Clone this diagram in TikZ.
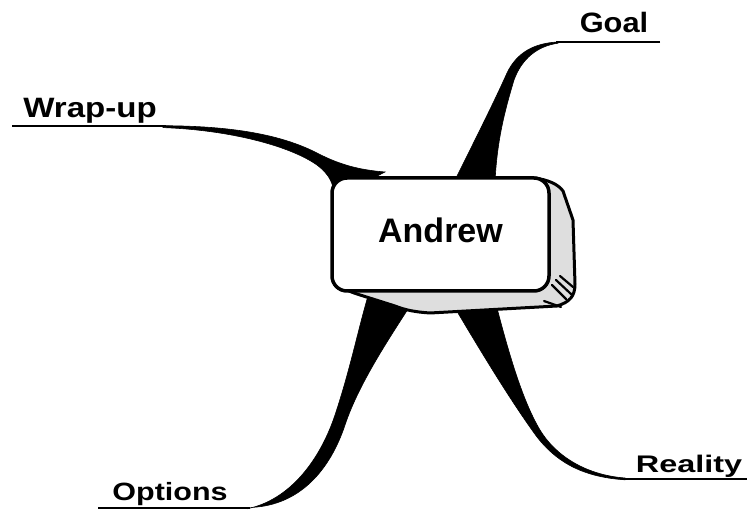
\documentclass[tikz,border=0pt]{standalone}
\usepackage{fontspec}
\setmainfont{Liberation Sans}
\begin{document}
\begin{tikzpicture}[x=1pt,y=-1pt,
  lbl/.style={anchor=base,inner sep=0pt,font=\bfseries},
  stem/.style={line width=2pt,line cap=butt},
  branch/.style={fill=black,draw=black,line width=0.6pt},
  frontface/.style={draw=black,fill=white,line width=3.5pt,rounded corners=15pt,
     minimum width=217pt,minimum height=113pt,inner sep=0pt,
     font=\fontsize{34}{34}\bfseries,text depth=9pt},
  sideface/.style={draw=black,fill=black!13,line width=3pt,line join=round},
  hatch/.style={line width=2.2pt,line cap=round}]
\useasboundingbox (0,0) rectangle (747,510);
% label nodes
\node[lbl,font=\fontsize{28}{28}\bfseries] (goal) at (614,33) {\scalebox{1.1}[1]{Goal}};
\node[lbl,font=\fontsize{28}{28}\bfseries] (wrapup) at (90,118) {\scalebox{1.18}[1]{Wrap-up}};
\node[lbl,font=\fontsize{25}{25}\bfseries] (options) at (170,500) {\scalebox{1.22}[1]{Options}};
\node[lbl,font=\fontsize{24}{24}\bfseries] (reality) at (689,472) {\scalebox{1.35}[1]{Reality}};
% stem coordinates
\coordinate (g0) at (660,42);  \coordinate (g1) at (556,42);
\coordinate (w0) at (12,126.5); \coordinate (w1) at (166,126.5);
\coordinate (o0) at (98,508); \coordinate (o1) at (250,508);
\coordinate (r0) at (747,479); \coordinate (r1) at (622,479);
\draw[stem] (g0) -- (g1);
\draw[stem] (w0) -- (w1);
\draw[stem] (o0) -- (o1);
\draw[stem] (r0) -- (r1);
% tapered branches
\draw[branch] (g1) ++(2,0) .. controls (535,43) and (517,52) .. (507,73)
  .. controls (495,100) and (475,140) .. (454,182) -- (495,182)
  .. controls (497,140) and (505,110) .. (514,80)
  .. controls (522,58) and (538,46) .. (558,43.2) -- cycle;
\draw[branch] (w1) ++(-3,-0.8) .. controls (230,126) and (280,134) .. (317,153)
  .. controls (340,165) and (360,170) .. (385,172) -- (334,198)
  .. controls (334,184) and (330,175) .. (317,165)
  .. controls (290,146) and (230,130) .. (163,127.6) -- cycle;
\draw[branch] (o1) ++(-3,0.8) .. controls (290,500) and (320,460) .. (335,415)
  .. controls (350,370) and (358,330) .. (368,296) -- (415,298)
  .. controls (395,330) and (360,380) .. (345,425)
  .. controls (330,470) and (300,505) .. (252,507.4) -- cycle;
\draw[branch] (r1) ++(3,0.8) .. controls (580,477) and (555,460) .. (537,437)
  .. controls (510,400) and (480,350) .. (455,308) -- (497,308)
  .. controls (508,350) and (522,400) .. (540,430)
  .. controls (555,455) and (585,475) .. (625,478) -- cycle;
% box: side and bottom faces
\draw[sideface] (535,178) .. controls (548,180) and (558,184) .. (563,191)
  -- (573,220) -- (575,284) .. controls (575,296) and (570,302) .. (557,306)
  -- (430,313) .. controls (415,312) and (405,310) .. (395,306)
  -- (357,294) .. controls (345,290) and (338,286) .. (334,278) -- cycle;
\draw[hatch] (552,285) -- (566,299);
\draw[hatch] (556,280) -- (571,294);
\draw[hatch] (560,276) -- (573,287);
\draw[hatch] (544,301) -- (561,307);
% front face
\node[frontface] (andrew) at (440.5,234.5) {Andrew};
\end{tikzpicture}
\end{document}
